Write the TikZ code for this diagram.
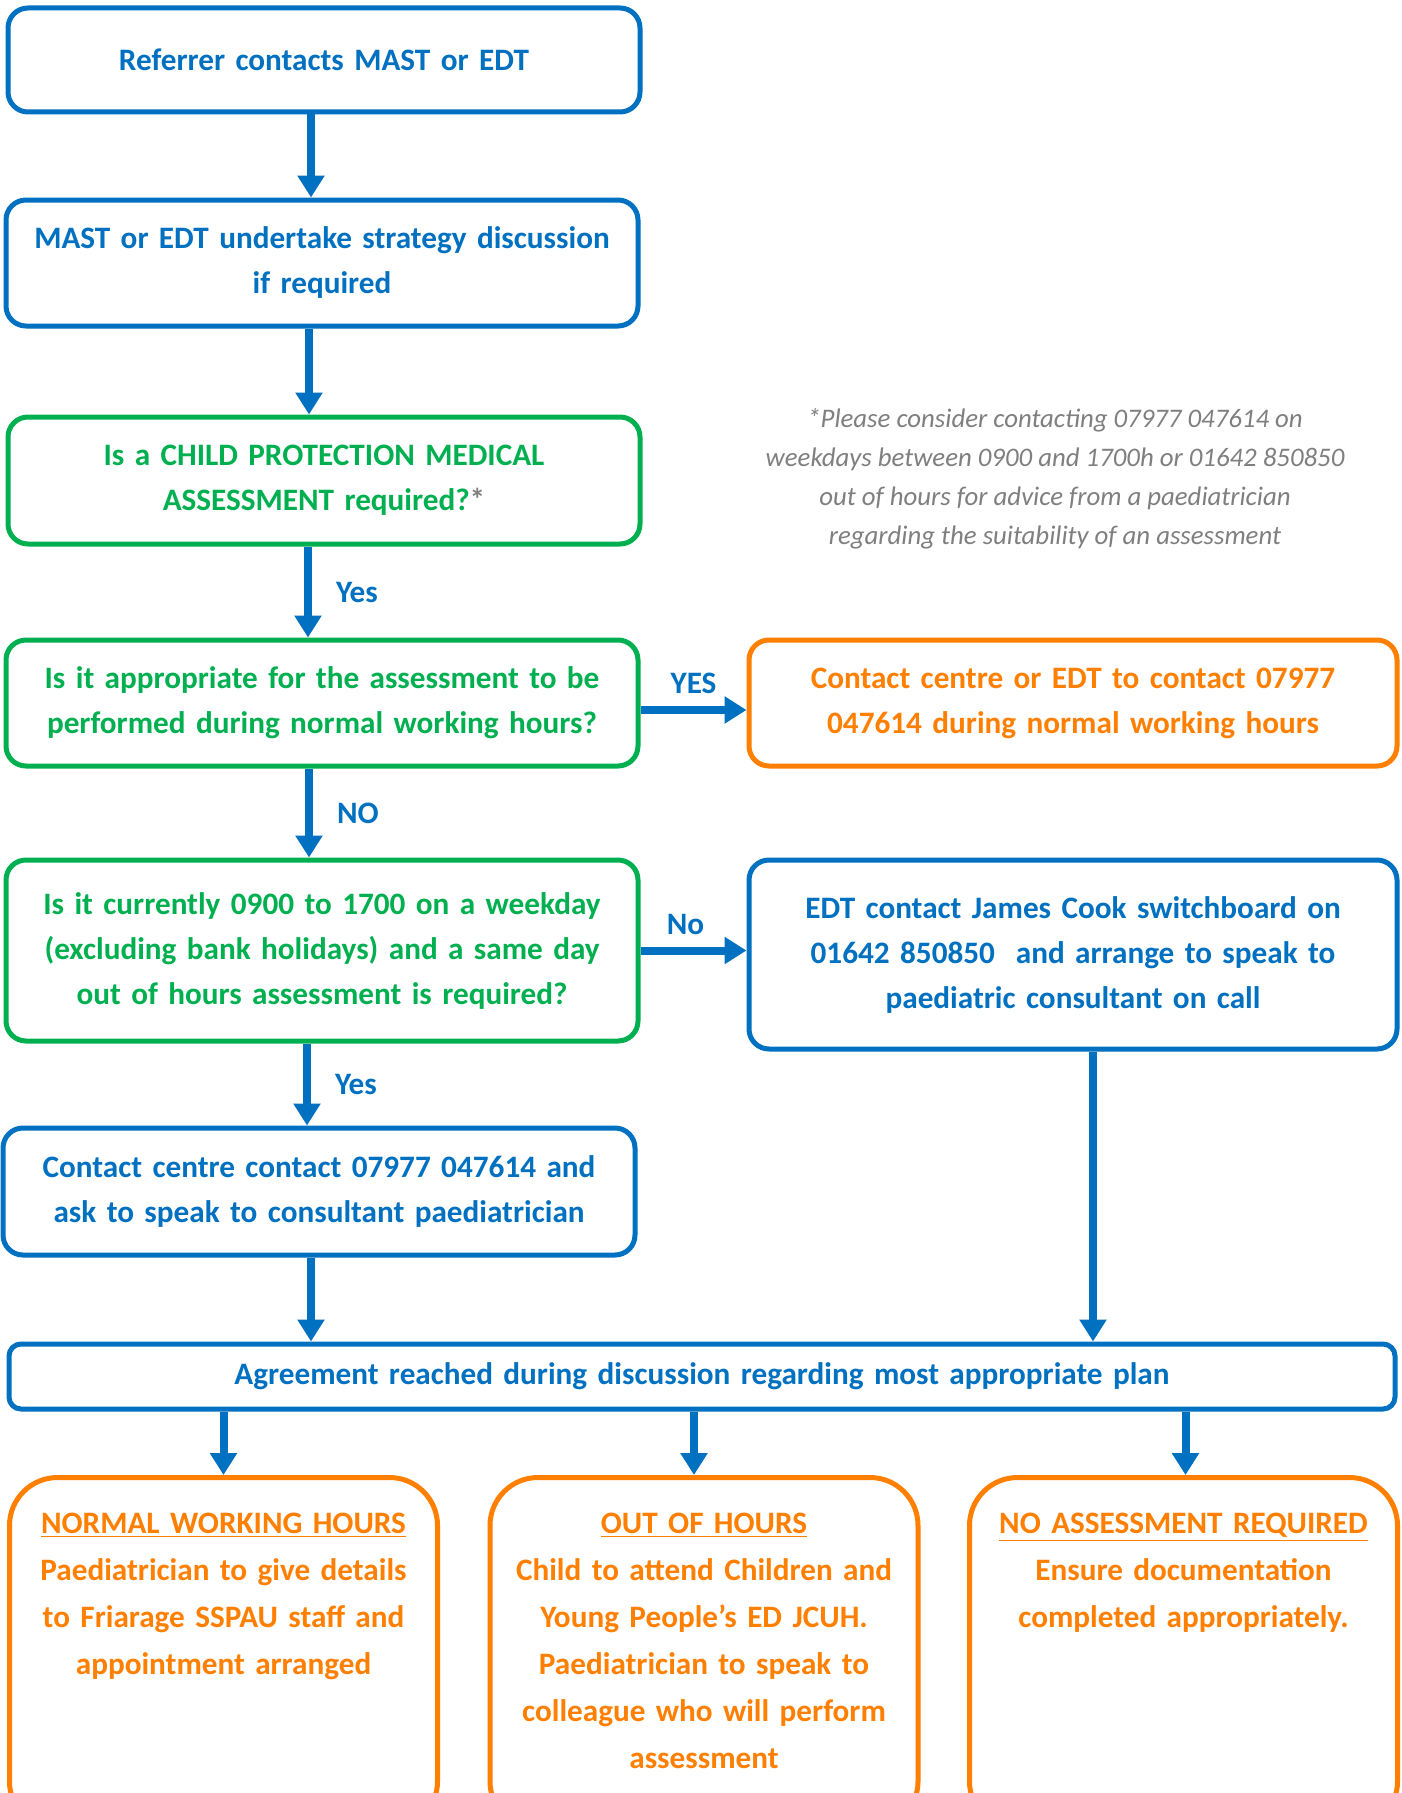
\documentclass[tikz,border=0pt]{standalone}
\usepackage{fontspec}
\setmainfont{Carlito}
\usetikzlibrary{arrows.meta,positioning}
\definecolor{mblue}{HTML}{0070C0}
\definecolor{mgreen}{HTML}{00B050}
\definecolor{morange}{HTML}{FF7F00}
\definecolor{mgrey}{HTML}{7F7F7F}
\tikzset{
  box/.style={draw=#1, text=#1, line width=2.5pt, rounded corners=10pt, fill=white,
    align=center, text width=310pt, minimum width=316pt, inner sep=0pt,
    font=\fontsize{15.6}{22.5}\selectfont\bfseries},
  widebox/.style={box=#1, text width=315pt, minimum width=324pt},
  planbox/.style={box=#1, text width=205pt, minimum width=214pt, rounded corners=24pt,
    anchor=north, text height=11pt, text depth=131pt, inner ysep=17pt,
    font=\fontsize{15.6}{23.5}\selectfont\bfseries},
  flow/.style={draw=mblue, line width=4pt, -{Triangle[width=13pt,length=11pt]}},
  answer/.style={text=mblue, inner sep=0pt, font=\fontsize{15.6}{18}\selectfont\bfseries}
}
\begin{document}
\begin{tikzpicture}[x=0.5pt,y=-0.5pt]
  \clip (0,0) rectangle (1402,1793);
  \fill[white] (0,0) rectangle (1402,1793);

  % left column
  \node[box=mblue, minimum height=52pt] (referrer) at (324,60) {Referrer contacts MAST or EDT};
  \node[box=mblue, minimum height=63pt] (strategy) at (322,263)
    {MAST or EDT undertake strategy discussion\\if required};
  \node[box=mgreen, minimum height=63.5pt] (cpma) at (324,480.5)
    {Is a CHILD PROTECTION MEDICAL\\ASSESSMENT required?\textcolor{mgrey}{*}};
  \node[box=mgreen, minimum height=63pt] (normal) at (322,703)
    {Is it appropriate for the assessment to be\\performed during normal working hours?};
  \node[box=mgreen, minimum height=90.5pt] (weekday) at (322,950.5)
    {Is it currently 0900 to 1700 on a weekday\\(excluding bank holidays) and a same day\\out of hours assessment is required?};
  \node[box=mblue, minimum height=63.5pt] (centre) at (319,1191.5)
    {Contact centre contact 07977 047614 and\\ask to speak to consultant paediatrician};

  % right column
  \node[widebox=morange, minimum height=63pt] (duringhours) at (1073,703)
    {Contact centre or EDT to contact 07977\\047614 during normal working hours};
  \node[widebox=mblue, minimum height=94.5pt] (switchboard) at (1073,954.5)
    {EDT contact James Cook switchboard on\\01642 850850~ and arrange to speak to\\paediatric consultant on call};
  \node[text=mgrey, align=center, font=\fontsize{13.4}{19.5}\selectfont\itshape] (advice) at (1055,479)
    {*Please consider contacting 07977 047614 on\\weekdays between 0900 and 1700h or 01642 850850\\out of hours for advice from a paediatrician\\regarding the suitability of an assessment};

  % agreement and outcomes
  \node[box=mblue, text width=680pt, minimum width=693pt, minimum height=32.5pt,
    rounded corners=6pt] (agree) at (702,1376.5)
    {Agreement reached during discussion regarding most appropriate plan};
  \node[planbox=morange] (nwh) at (223.5,1475)
    {\underline{NORMAL WORKING HOURS}\\Paediatrician to give details\\to Friarage SSPAU staff and\\appointment arranged};
  \node[planbox=morange] (ooh) at (704,1475)
    {\underline{OUT OF HOURS}\\Child to attend Children and\\Young People’s ED JCUH.\\Paediatrician to speak to\\colleague who will perform\\assessment};
  \node[planbox=morange] (noass) at (1183.5,1475)
    {\underline{NO ASSESSMENT REQUIRED}\\Ensure documentation\\completed appropriately.};

  % connectors
  \draw[flow] ([xshift=-6.5pt]referrer.south) -- ([xshift=-5.5pt]strategy.north);
  \draw[flow] ([xshift=-6.5pt]strategy.south) -- ([xshift=-7.5pt]cpma.north);
  \draw[flow] ([xshift=-8pt]cpma.south) -- node[answer, right=12pt] {Yes} ([xshift=-7pt]normal.north);
  \draw[flow] ([xshift=-6.5pt]normal.south) -- node[answer, right=12pt] {NO} ([xshift=-6.5pt]weekday.north);
  \draw[flow] ([xshift=-7.5pt]weekday.south) -- node[answer, right=12pt] {Yes} ([xshift=-6pt]centre.north);
  \draw[flow] ([yshift=-3.5pt]normal.east) -- node[answer, above=6pt] {YES} ([yshift=-3.5pt]duringhours.west);
  \draw[flow] (weekday.east) -- node[answer, above=6pt, xshift=-4pt] {No} (switchboard.west |- weekday.east);
  \draw[flow] ([xshift=-4pt]centre.south) -- ([xshift=-4pt]centre.south |- agree.north);
  \draw[flow] ([xshift=10pt]switchboard.south) -- ([xshift=10pt]switchboard.south |- agree.north);
  \draw[flow] (nwh.north |- agree.south) -- (nwh.north);
  \draw[flow] ([xshift=-5pt]ooh.north |- agree.south) -- ([xshift=-5pt]ooh.north);
  \draw[flow] ([xshift=1pt]noass.north |- agree.south) -- ([xshift=1pt]noass.north);
\end{tikzpicture}
\end{document}
